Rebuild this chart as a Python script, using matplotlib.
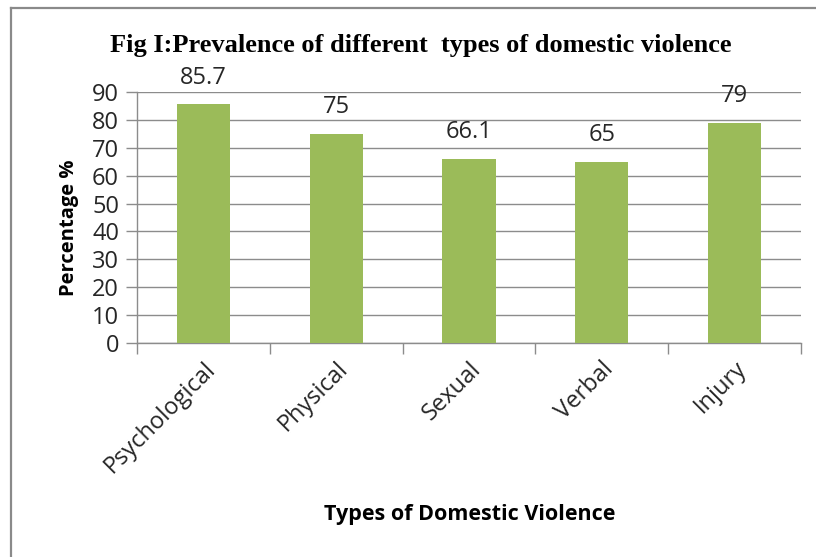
import matplotlib
matplotlib.use('Agg')
import matplotlib.pyplot as plt
from matplotlib.lines import Line2D

categories = ['Psychological', 'Physical', 'Sexual', 'Verbal', 'Injury']
values = [85.7, 75, 66.1, 65, 79]
value_labels = ['85.7', '75', '66.1', '65', '79']
yticks = [0, 10, 20, 30, 40, 50, 60, 70, 80, 90]

bar_color = '#9BBB59'
grid_color = '#8C8C8C'
sans = 'Open Sans'

fig = plt.figure(figsize=(8.16, 5.57), dpi=100)
ax = fig.add_axes([0.168, 0.3842, 0.8136, 0.4506])

x = list(range(len(categories)))
ax.bar(x, values, width=0.4, color=bar_color, zorder=3)

for xi, v, lab in zip(x, values, value_labels):
    ax.annotate(lab, (xi, v), xytext=(0, 19), textcoords='offset points',
                ha='center', va='center', fontsize=17, family=sans, color='#262626')

ax.set_xlim(-0.5, len(categories) - 0.5)
ax.set_ylim(0, 90)
ax.set_yticks(yticks)
ax.set_yticklabels([str(t) for t in yticks], fontsize=17, family=sans, color='#262626')
ax.yaxis.grid(True, color=grid_color, linewidth=1.0, zorder=0)

ax.set_xticks(x)
ax.set_xticklabels(categories, rotation=45, ha='right', rotation_mode='anchor',
                   fontsize=17, family=sans, color='#262626')
ax.set_xticks([i - 0.5 for i in range(len(categories) + 1)], minor=True)
ax.tick_params(axis='x', which='major', length=0, pad=10)
ax.tick_params(axis='x', which='minor', length=8, color=grid_color, width=1)
ax.tick_params(axis='y', length=8, color=grid_color, width=1, pad=5)

for s in ['top', 'right']:
    ax.spines[s].set_visible(False)
for s in ['left', 'bottom']:
    ax.spines[s].set_color(grid_color)
    ax.spines[s].set_linewidth(1.0)

fig.text(0.516, 0.918, 'Fig I:Prevalence of different  types of domestic violence',
         ha='center', va='center', fontsize=19, fontweight='bold', family='Liberation Serif')
fig.text(0.575, 0.077, 'Types of Domestic Violence', ha='center', va='center',
         fontsize=15.5, fontweight='bold', family=sans)
fig.text(0.085, 0.591, 'Percentage %', ha='center', va='center', rotation=90,
         fontsize=14.5, fontweight='bold', family=sans)

# outer frame (only top and left edges show in the crop)
fig.add_artist(Line2D([11 / 816, 11 / 816], [0, 1 - 8 / 557], transform=fig.transFigure,
                      color='#8A8A8A', linewidth=1.6))
fig.add_artist(Line2D([11 / 816, 1], [1 - 8 / 557, 1 - 8 / 557], transform=fig.transFigure,
                      color='#8A8A8A', linewidth=1.6))

fig.savefig('out.png', dpi=100)
